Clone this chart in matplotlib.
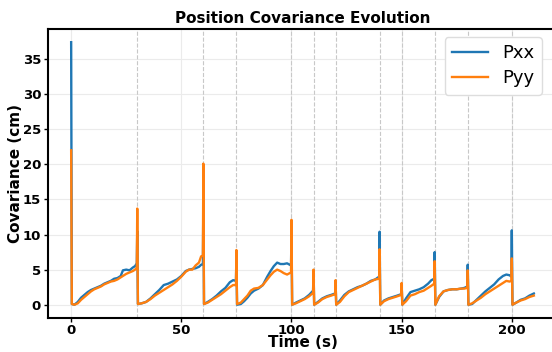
import numpy as np
import matplotlib
matplotlib.use("Agg")
import matplotlib.pyplot as plt

# filter resets (s)
reset_times = [30, 60, 75, 100, 110, 120, 140, 150, 165, 180, 200]

# covariance trace: time (s), Pxx, Pyy (cm)
time_s = [
    0.0, 0.3, 1.5, 3, 4.5, 6, 7.5, 9, 10.5, 12, 13.5, 15, 16.5, 18, 19.5, 21, 22.5, 23.5, 25, 26.5, 28, 29, 29.8,
    30.0, 30.3, 32, 34, 36, 38, 40, 42, 44, 46, 48, 50, 52, 53.5, 55, 56.5, 58, 59, 59.8,
    60.0, 60.3, 62, 64, 66, 68, 70, 72, 73.5, 74.8,
    75.0, 75.3, 77, 78.5, 80, 81.5, 83, 85, 87, 89, 90.5, 92, 93.5, 95, 96.5, 98, 99.8,
    100.0, 100.3, 102, 104, 106, 108, 109.8,
    110.0, 110.3, 112, 114, 116, 118, 119.8,
    120.0, 120.3, 122, 124, 126, 128, 130, 132, 134, 136, 138, 139.8,
    140.0, 140.3, 142, 144, 146, 148, 149.8,
    150.0, 150.3, 152, 154, 156, 158, 160, 162, 163.5, 164.8,
    165.0, 165.3, 167, 169, 171, 173, 175, 177, 178.5, 179.8,
    180.0, 180.3, 182, 184, 186, 188, 190, 192, 194, 196, 197.5, 199, 199.8,
    200.0, 200.3, 202, 204, 206, 208, 210,
]
pxx = [
    37.4, 0.1, 0.0, 0.4, 1.0, 1.4, 1.8, 2.1, 2.3, 2.5, 2.7, 3.0, 3.2, 3.4, 3.7, 3.8, 4.1, 4.9, 5.0, 4.9, 5.3, 5.5, 5.9,
    10.5, 0.1, 0.2, 0.4, 0.9, 1.5, 2.1, 2.8, 3.0, 3.3, 3.6, 4.1, 4.8, 5.0, 5.1, 5.2, 5.4, 5.7, 5.8,
    15.0, 0.1, 0.4, 0.8, 1.3, 1.9, 2.4, 3.2, 3.5, 3.4,
    6.5, 0.0, 0.1, 0.5, 1.0, 1.6, 2.0, 2.3, 2.8, 4.0, 4.8, 5.5, 6.0, 5.8, 5.8, 5.9, 5.6,
    10.5, 0.0, 0.3, 0.6, 0.9, 1.4, 2.0,
    4.8, 0.0, 0.4, 0.9, 1.2, 1.4, 1.6,
    3.3, 0.0, 0.6, 1.4, 1.9, 2.2, 2.5, 2.7, 3.0, 3.4, 3.6, 4.0,
    10.4, 0.0, 0.6, 0.9, 1.1, 1.3, 1.5,
    2.9, 0.0, 0.9, 1.8, 2.0, 2.2, 2.5, 3.0, 3.5, 3.7,
    7.5, 0.0, 1.1, 1.9, 2.1, 2.2, 2.2, 2.3, 2.4, 2.6,
    5.7, 0.0, 0.1, 0.7, 1.3, 1.9, 2.4, 2.9, 3.6, 4.1, 4.3, 4.2, 4.0,
    10.6, 0.0, 0.3, 0.7, 0.9, 1.3, 1.6,
]
pyy = [
    22.0, 0.1, 0.0, 0.2, 0.7, 1.1, 1.5, 1.9, 2.2, 2.4, 2.6, 2.9, 3.1, 3.3, 3.4, 3.6, 3.9, 4.1, 4.4, 4.6, 4.8, 5.0, 5.3,
    13.7, 0.1, 0.2, 0.4, 0.8, 1.3, 1.7, 2.1, 2.5, 2.9, 3.4, 4.0, 4.7, 5.0, 5.0, 5.6, 6.0, 6.9, 7.0,
    20.1, 0.1, 0.3, 0.7, 1.1, 1.5, 2.0, 2.5, 2.8, 2.8,
    7.8, 0.1, 0.3, 0.8, 1.3, 2.0, 2.3, 2.4, 2.8, 3.6, 4.2, 4.7, 5.0, 4.8, 4.5, 4.3, 4.6,
    12.1, 0.0, 0.2, 0.5, 0.8, 1.2, 1.7,
    5.0, 0.0, 0.3, 0.8, 1.1, 1.3, 1.5,
    3.5, 0.0, 0.4, 1.2, 1.8, 2.1, 2.4, 2.7, 3.0, 3.3, 3.6, 3.7,
    7.9, 0.0, 0.5, 0.8, 1.0, 1.2, 1.4,
    3.1, 0.0, 0.5, 1.3, 1.5, 1.8, 2.0, 2.4, 2.7, 3.0,
    6.2, 0.0, 1.2, 1.9, 2.1, 2.2, 2.2, 2.3, 2.3, 2.4,
    4.9, 0.0, 0.2, 0.6, 1.0, 1.5, 1.9, 2.3, 2.7, 3.1, 3.4, 3.3, 3.4,
    6.6, 0.0, 0.3, 0.6, 0.8, 1.1, 1.3,
]

fig = plt.figure(figsize=(5.52, 3.52), dpi=100)
ax = fig.add_axes([0.087, 0.097, 0.922, 0.821])

ax.grid(True, color="#ebebeb", linewidth=0.8)
ax.set_axisbelow(True)
for rt in reset_times:
    ax.axvline(rt, color="#c8c8c8", linestyle="--", linewidth=0.8, zorder=1)

ax.plot(time_s, pxx, color="#1f77b4", linewidth=1.7, label="Pxx", zorder=2)
ax.plot(time_s, pyy, color="#ff7f0e", linewidth=1.7, label="Pyy", zorder=3)

ax.set_xlim(-10.5, 220.5)
ax.set_ylim(-1.87, 39.3)
ax.set_xticks([0, 50, 100, 150, 200])
ax.set_yticks([0, 5, 10, 15, 20, 25, 30, 35])

for s in ax.spines.values():
    s.set_color("black")
    s.set_linewidth(1.5)
ax.tick_params(direction="out", length=3, width=1, pad=2, colors="black", labelsize=9.5)
ax.tick_params(axis="x", pad=1.5)
for lab in ax.get_xticklabels() + ax.get_yticklabels():
    lab.set_fontweight("bold")

ax.set_title("Position Covariance Evolution", fontsize=11, fontweight="bold", pad=4)
ax.set_xlabel("Time (s)", fontsize=11, fontweight="bold")
ax.set_ylabel("Covariance (cm)", fontsize=11, fontweight="bold")
ax.xaxis.set_label_coords(0.5, -0.061)
ax.yaxis.set_label_coords(-0.049, 0.5)

leg = ax.legend(loc="upper right", bbox_to_anchor=(0.97, 0.972), fontsize=13,
                frameon=True, fancybox=True, edgecolor="#dddddd", framealpha=1.0,
                borderaxespad=0.0, labelspacing=0.4)

fig.savefig("out.png", dpi=100)
